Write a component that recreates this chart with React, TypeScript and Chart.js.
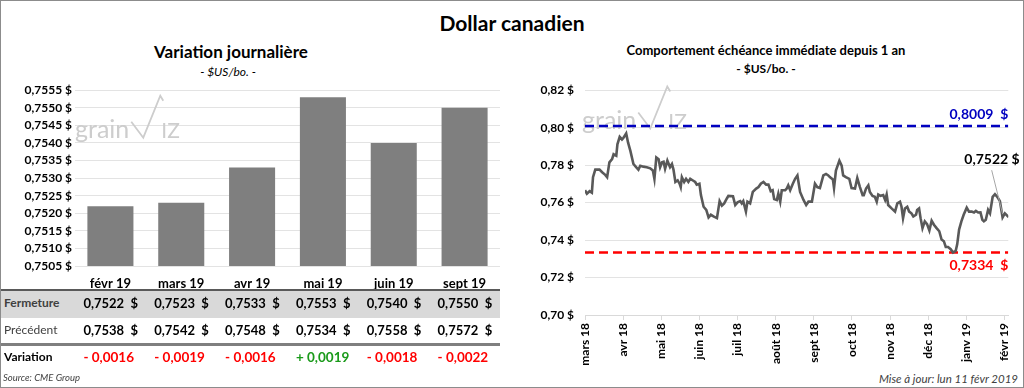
import React, { useEffect, useRef, useState } from "react";
import { Chart, registerables } from "chart.js";
Chart.register(...registerables);

const FONT = "Lato, 'Open Sans', sans-serif";

// ---- Left panel data ----
const barCategories = ["févr 19", "mars 19", "avr 19", "mai 19", "juin 19", "sept 19"];
const closeValues = [0.7522, 0.7523, 0.7533, 0.7553, 0.754, 0.755];
const previousValues = [0.7538, 0.7542, 0.7548, 0.7534, 0.7558, 0.7572];
const changeValues = [-0.0016, -0.0019, -0.0016, 0.0019, -0.0018, -0.0022];
const barTickValues = [0.7505, 0.751, 0.7515, 0.752, 0.7525, 0.753, 0.7535, 0.754, 0.7545, 0.755, 0.7555];

// ---- Right panel data ----
const monthLabels = ["mars 18", "avr 18", "mai 18", "juin 18", "juil 18", "août 18", "sept 18", "oct 18", "nov 18", "déc 18", "janv 19", "févr 19"];
const lineTickValues = [0.7, 0.72, 0.74, 0.76, 0.78, 0.8, 0.82];
// position in months since the "mars 18" tick
const historyX = [
  0.0, 0.05, 0.12, 0.18, 0.21, 0.27, 0.38, 0.45, 0.53, 0.58,
  0.64, 0.71, 0.75, 0.82, 0.85, 0.91, 0.97, 1.01, 1.08, 1.13,
  1.19, 1.27, 1.34, 1.4, 1.45, 1.53, 1.62, 1.71, 1.78, 1.82,
  1.87, 1.93, 1.97, 2.02, 2.06, 2.1, 2.16, 2.23, 2.28, 2.32,
  2.37, 2.43, 2.48, 2.51, 2.54, 2.6, 2.65, 2.71, 2.76, 2.83,
  2.89, 2.93, 3.0, 3.04, 3.11, 3.18, 3.24, 3.3, 3.37, 3.46,
  3.53, 3.59, 3.65, 3.72, 3.76, 3.88, 3.94, 4.0, 4.07, 4.11,
  4.15, 4.22, 4.26, 4.33, 4.4, 4.49, 4.55, 4.61, 4.68, 4.75,
  4.81, 4.87, 4.92, 4.96, 5.03, 5.07, 5.12, 5.16, 5.25, 5.29,
  5.33, 5.38, 5.45, 5.51, 5.57, 5.64, 5.73, 5.8, 5.86, 5.95,
  6.03, 6.09, 6.16, 6.25, 6.32, 6.38, 6.42, 6.5, 6.53, 6.58,
  6.67, 6.73, 6.77, 6.84, 6.93, 6.99, 7.08, 7.14, 7.21, 7.28,
  7.31, 7.37, 7.43, 7.47, 7.54, 7.6, 7.65, 7.69, 7.75, 7.82,
  7.87, 7.91, 7.95, 8.04, 8.13, 8.19, 8.26, 8.3, 8.34, 8.39,
  8.45, 8.5, 8.56, 8.61, 8.68, 8.71, 8.76, 8.8, 8.85, 8.91,
  8.97, 9.03, 9.09, 9.15, 9.22, 9.29, 9.35, 9.41, 9.46, 9.52,
  9.59, 9.65, 9.72, 9.76, 9.81, 9.87, 9.93, 10.01, 10.07, 10.14,
  10.2, 10.25, 10.31, 10.37, 10.42, 10.46, 10.51, 10.57, 10.62, 10.69,
  10.75, 10.81, 10.88, 10.95, 11.01, 11.07, 11.11,
];
const historyY = [
  0.7666, 0.7648, 0.7661, 0.7653, 0.7736, 0.7776, 0.7776, 0.7762, 0.7748, 0.7736,
  0.7815, 0.7832, 0.7858, 0.785, 0.7911, 0.7951, 0.7937, 0.7946, 0.7969, 0.792,
  0.7876, 0.7806, 0.7789, 0.7776, 0.7797, 0.7792, 0.7789, 0.7783, 0.7771, 0.7727,
  0.7841, 0.7832, 0.7789, 0.7815, 0.7818, 0.778, 0.7824, 0.7789, 0.7806, 0.7776,
  0.771, 0.7719, 0.7701, 0.7683, 0.7736, 0.771, 0.7727, 0.771, 0.7727, 0.7718,
  0.771, 0.7696, 0.7701, 0.764, 0.7578, 0.7561, 0.7521, 0.7535, 0.7526, 0.7517,
  0.7608, 0.7584, 0.7596, 0.7622, 0.7636, 0.7634, 0.7587, 0.7601, 0.7608, 0.7596,
  0.7608, 0.7552, 0.7605, 0.7596, 0.7657, 0.7675, 0.7683, 0.7701, 0.771, 0.7696,
  0.7696, 0.7661, 0.7666, 0.7619, 0.7614, 0.7648, 0.7605, 0.7666, 0.7666, 0.7675,
  0.7692, 0.7666, 0.7701, 0.7727, 0.7745, 0.7657, 0.7614, 0.7587, 0.7605, 0.7605,
  0.7701, 0.7683, 0.7678, 0.7745, 0.7753, 0.7745, 0.7736, 0.7724, 0.7678, 0.7771,
  0.7824, 0.7797, 0.7745, 0.7736, 0.7727, 0.7678, 0.7675, 0.7731, 0.7683, 0.764,
  0.764, 0.7675, 0.7692, 0.7657, 0.7636, 0.7631, 0.7605, 0.7643, 0.7636, 0.764,
  0.7614, 0.7643, 0.7587, 0.7569, 0.7552, 0.7596, 0.7605, 0.7578, 0.7517, 0.7569,
  0.7578, 0.7552, 0.7543, 0.7526, 0.7535, 0.7561, 0.7569, 0.7517, 0.7464, 0.75,
  0.7485, 0.7451, 0.7503, 0.7482, 0.7464, 0.7447, 0.7403, 0.7394, 0.7363, 0.7363,
  0.7351, 0.7334, 0.7342, 0.7377, 0.7456, 0.75, 0.7535, 0.7573, 0.7552, 0.7552,
  0.7547, 0.7556, 0.7547, 0.7548, 0.7508, 0.75, 0.7508, 0.7561, 0.7543, 0.7631,
  0.7645, 0.7631, 0.7608, 0.7521, 0.7543, 0.7531, 0.7522,
];
const yearHigh = 0.8009;
const yearLow = 0.7334;
const lastPrice = 0.7522;
const lineXMax = 11.1;

const fmt4 = (v: number) => v.toFixed(4).replace(".", ",");
const fmt2 = (v: number) => v.toFixed(2).replace(".", ",");
const fmtChange = (v: number) => (v >= 0 ? "+ " : "- ") + fmt4(Math.abs(v));

function drawWatermark(ctx: CanvasRenderingContext2D, x: number, base: number) {
  ctx.save();
  ctx.fillStyle = "#cdcdcd";
  ctx.strokeStyle = "#cdcdcd";
  ctx.font = `25px ${FONT}`;
  ctx.textAlign = "left";
  ctx.textBaseline = "alphabetic";
  ctx.fillText("grain", x, base);
  const w = ctx.measureText("grain").width;
  const vx = x + w + 2;
  ctx.lineWidth = 1.8;
  ctx.lineJoin = "miter";
  ctx.beginPath();
  ctx.moveTo(vx, base - 16);
  ctx.lineTo(vx + 12, base);
  ctx.lineTo(vx + 29, base - 42);
  ctx.lineTo(vx + 32, base - 37);
  ctx.stroke();
  ctx.font = `21px ${FONT}`;
  ctx.fillText("IZ", vx + 30, base);
  ctx.restore();
}

const watermarkPlugin = {
  id: "watermark",
  beforeDatasetsDraw(chart: any, _args: any, opts: any) {
    const a = chart.chartArea;
    drawWatermark(chart.ctx, a.left + opts.dx, a.top + opts.dy);
  },
};

const annotationPlugin = {
  id: "priceNotes",
  afterDatasetsDraw(chart: any) {
    const ctx = chart.ctx as CanvasRenderingContext2D;
    const xs = chart.scales.x;
    const ys = chart.scales.y;
    const a = chart.chartArea;
    ctx.save();
    ctx.font = `bold 14px ${FONT}`;
    ctx.textAlign = "right";
    ctx.textBaseline = "middle";
    ctx.fillStyle = "#0000c0";
    ctx.fillText(fmt4(yearHigh) + "  $", a.right, ys.getPixelForValue(yearHigh) - 11);
    ctx.fillStyle = "#ff0000";
    ctx.fillText(fmt4(yearLow) + "  $", a.right, ys.getPixelForValue(yearLow) + 13);
    const lx = xs.getPixelForValue(historyX[historyX.length - 1]);
    const ly = ys.getPixelForValue(lastPrice);
    ctx.strokeStyle = "#a6a6a6";
    ctx.lineWidth = 1;
    ctx.beginPath();
    ctx.moveTo(lx - 17, ly - 47);
    ctx.lineTo(lx - 6, ly - 3);
    ctx.stroke();
    ctx.fillStyle = "#000000";
    ctx.fillText(fmt4(lastPrice) + " $", lx + 11, ly - 58);
    ctx.restore();
  },
};

const LEFT_X = 0;
const LEFT_Y = 80;
const RIGHT_X = 514;
const RIGHT_Y = 72;

export default function App() {
  const leftRef = useRef<HTMLCanvasElement>(null);
  const rightRef = useRef<HTMLCanvasElement>(null);
  const [centers, setCenters] = useState<number[]>([]);

  useEffect(() => {
    Chart.defaults.font.family = FONT;
    const c1 = new Chart(leftRef.current as HTMLCanvasElement, {
      type: "bar",
      data: {
        labels: barCategories,
        datasets: [
          {
            data: closeValues,
            backgroundColor: "#7f7f7f",
            barPercentage: 0.65,
            categoryPercentage: 1,
          },
        ],
      },
      plugins: [watermarkPlugin],
      options: {
        animation: false,
        responsive: false,
        maintainAspectRatio: false,
        layout: { padding: { top: 7.5, right: 5, left: 0, bottom: 0 } },
        plugins: {
          legend: { display: false },
          tooltip: { enabled: false },
          // @ts-ignore
          watermark: { dx: 0, dy: 47.5 },
        },
        scales: {
          x: {
            grid: { display: false, drawTicks: false },
            border: { display: false },
            ticks: { color: "#000", font: { size: 13, weight: "bold" }, padding: 10 },
            afterFit: (s: any) => {
              s.height = 26;
            },
          },
          y: {
            min: barTickValues[0],
            max: barTickValues[barTickValues.length - 1],
            afterBuildTicks: (s: any) => {
              s.ticks = barTickValues.map((v) => ({ value: v }));
            },
            ticks: {
              color: "#000",
              font: { size: 12, weight: "bold" },
              padding: 3,
              callback: (v: any) => fmt4(Number(v)) + " $",
            },
            grid: { color: "#e3e3e3", drawTicks: false },
            border: { display: false },
            afterFit: (s: any) => {
              s.width = 75;
            },
          },
        },
      },
    } as any);
    setCenters(barCategories.map((_, i) => c1.scales.x.getPixelForValue(i) + LEFT_X));

    const c2 = new Chart(rightRef.current as HTMLCanvasElement, {
      type: "line",
      data: {
        datasets: [
          {
            data: historyX.map((x, i) => ({ x, y: historyY[i] })),
            borderColor: "#595959",
            borderWidth: 2.6,
            pointRadius: 0,
            tension: 0,
          },
          {
            data: [
              { x: 0, y: yearHigh },
              { x: lineXMax, y: yearHigh },
            ],
            borderColor: "#0000c0",
            borderWidth: 2.5,
            borderDash: [9, 5],
            pointRadius: 0,
          },
          {
            data: [
              { x: 0, y: yearLow },
              { x: lineXMax, y: yearLow },
            ],
            borderColor: "#ff0000",
            borderWidth: 2.5,
            borderDash: [9, 5],
            pointRadius: 0,
          },
        ],
      },
      plugins: [watermarkPlugin, annotationPlugin],
      options: {
        animation: false,
        responsive: false,
        maintainAspectRatio: false,
        layout: { padding: { top: 14.7, right: 13, left: 0, bottom: 0 } },
        plugins: {
          legend: { display: false },
          tooltip: { enabled: false },
          // @ts-ignore
          watermark: { dx: -3, dy: 38.3 },
        },
        scales: {
          x: {
            type: "linear",
            min: 0,
            max: lineXMax,
            afterBuildTicks: (s: any) => {
              s.ticks = monthLabels.map((_, i) => ({ value: i }));
            },
            ticks: {
              autoSkip: false,
              maxRotation: 90,
              minRotation: 90,
              color: "#000",
              font: { size: 12, weight: "bold" },
              padding: 3,
              callback: (_v: any, i: number) => monthLabels[i],
            },
            grid: { drawOnChartArea: false, drawTicks: true, tickLength: 5, color: "#d9d9d9" },
            border: { display: true, color: "#d9d9d9" },
            afterFit: (s: any) => {
              s.height = 57;
            },
          },
          y: {
            min: lineTickValues[0],
            max: lineTickValues[lineTickValues.length - 1],
            afterBuildTicks: (s: any) => {
              s.ticks = lineTickValues.map((v) => ({ value: v }));
            },
            ticks: {
              color: "#000",
              font: { size: 12, weight: "bold" },
              padding: 11,
              callback: (v: any) => fmt2(Number(v)) + " $",
            },
            grid: { color: "#e3e3e3", drawTicks: false },
            border: { display: false },
            afterFit: (s: any) => {
              s.width = 71;
            },
          },
        },
      },
    } as any);

    return () => {
      c1.destroy();
      c2.destroy();
    };
  }, []);

  const abs = (o: React.CSSProperties): React.CSSProperties => ({ position: "absolute", ...o });
  const rowCenters = [304, 331, 358];
  const valueStyle = (cx: number, cy: number, color: string, size: number): React.CSSProperties =>
    abs({
      left: cx - 27,
      top: cy - 9,
      height: 18,
      lineHeight: "18px",
      whiteSpace: "pre",
      font: `bold ${size}px ${FONT}`,
      color,
    });

  return (
    <div
      style={{
        position: "fixed",
        left: 0,
        top: 0,
        width: 1024,
        height: 388,
        background: "#fff",
        fontFamily: FONT,
        overflow: "hidden",
      }}
    >
      <div style={abs({ left: 0, top: 10, width: 1024, height: 24, lineHeight: "24px", textAlign: "center", font: `bold 21px ${FONT}`, color: "#000" })}>
        Dollar canadien
      </div>

      {/* Left panel */}
      <div style={abs({ left: 31, top: 41, width: 400, height: 20, lineHeight: "20px", textAlign: "center", font: `bold 17px ${FONT}`, color: "#000" })}>
        Variation journalière
      </div>
      <div style={abs({ left: 28, top: 64, width: 400, height: 16, lineHeight: "16px", textAlign: "center", font: `italic 12px ${FONT}`, color: "#000" })}>
        - $US/bo. -
      </div>
      <canvas ref={leftRef} width={505} height={212} style={abs({ left: LEFT_X, top: LEFT_Y, width: 505, height: 212 })} />

      <div style={abs({ left: 0, top: 289, width: 500, height: 2, background: "#595959" })} />
      <div style={abs({ left: 0, top: 291, width: 500, height: 27, background: "#d9d9d9" })} />
      <div style={abs({ left: 0, top: 343, width: 500, height: 3, background: "#7f7f7f" })} />
      <div style={abs({ left: 4, top: rowCenters[0] - 9, height: 18, lineHeight: "18px", font: `bold 12px ${FONT}`, color: "#404040" })}>Fermeture</div>
      <div style={abs({ left: 4, top: rowCenters[1] - 9, height: 18, lineHeight: "18px", font: `12px ${FONT}`, color: "#404040" })}>Précédent</div>
      <div style={abs({ left: 4, top: rowCenters[2] - 9, height: 18, lineHeight: "18px", font: `bold 12px ${FONT}`, color: "#000" })}>Variation</div>
      {centers.map((cx, i) => (
        <React.Fragment key={i}>
          <div style={valueStyle(cx, rowCenters[0], "#000", 13)}>{fmt4(closeValues[i]) + "  $"}</div>
          <div style={valueStyle(cx, rowCenters[1], "#000", 13)}>{fmt4(previousValues[i]) + "  $"}</div>
          <div style={valueStyle(cx, rowCenters[2], changeValues[i] >= 0 ? "#1a9a1a" : "#ff0000", 13.5)}>{fmtChange(changeValues[i])}</div>
        </React.Fragment>
      ))}
      <div style={abs({ left: 3, top: 372, height: 14, lineHeight: "14px", font: `italic 9.5px ${FONT}`, color: "#404040" })}>Source: CME Group</div>

      {/* Right panel */}
      <div style={abs({ left: 566, top: 42, width: 400, height: 18, lineHeight: "18px", textAlign: "center", font: `bold 13px ${FONT}`, color: "#000" })}>
        Comportement échéance immédiate depuis 1 an
      </div>
      <div style={abs({ left: 566, top: 61, width: 400, height: 16, lineHeight: "16px", textAlign: "center", font: `bold 12px ${FONT}`, color: "#000" })}>
        - $US/bo. -
      </div>
      <canvas ref={rightRef} width={508} height={300} style={abs({ left: RIGHT_X, top: RIGHT_Y, width: 508, height: 300 })} />
      <div style={abs({ right: 6, top: 372, height: 16, lineHeight: "16px", font: `italic 11.5px ${FONT}`, color: "#404040" })}>
        Mise à jour: lun 11 févr 2019
      </div>

      <div style={abs({ left: 0, top: 0, width: 1024, height: 388, boxSizing: "border-box", border: "1px solid #8c8c8c", pointerEvents: "none" })} />
    </div>
  );
}
